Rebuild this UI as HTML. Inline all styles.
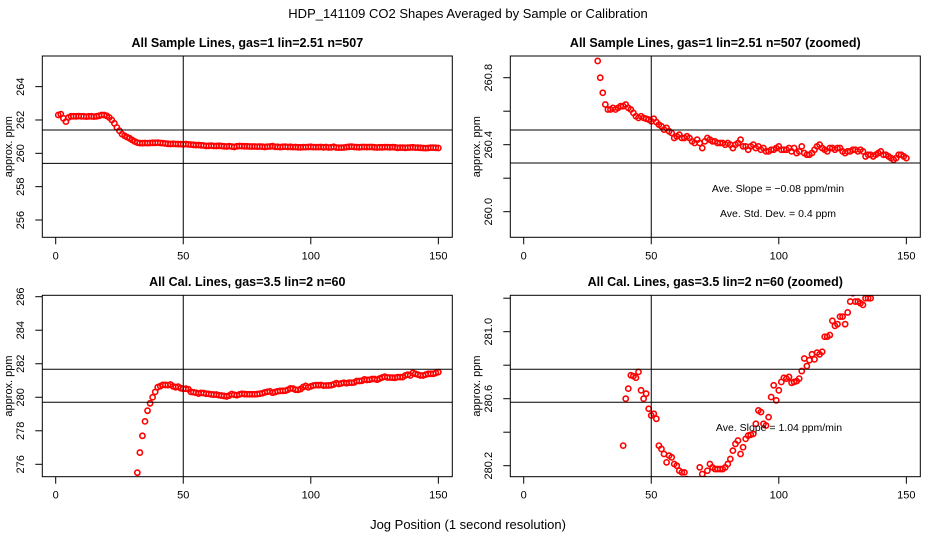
<!DOCTYPE html>
<html><head><meta charset="utf-8"><style>
html,body{margin:0;padding:0;background:#fff;width:936px;height:540px;overflow:hidden;}
svg{display:block;font-family:"Liberation Sans",sans-serif;}
</style></head><body>
<svg id="chart" width="936" height="540" viewBox="0 0 936 540">
<text x="468" y="18" text-anchor="middle" font-size="13">HDP_141109  CO2 Shapes Averaged by Sample or Calibration</text>
<text x="468" y="529" text-anchor="middle" font-size="13">Jog Position (1 second resolution)</text>
</svg>
<script>
const sampleStart = 1;
const sampleValues = [262.3,262.35,262.1,261.9,262.15,262.22,262.22,262.22,262.23,262.22,262.22,262.2,262.22,262.22,262.2,262.22,262.25,262.3,262.3,262.25,262.15,262.0,261.8,261.55,261.35,261.15,261.05,260.97,
260.90,260.80,260.71,260.64,260.61,260.61,260.62,260.61,260.62,260.63,260.63,260.64,260.62,260.61,260.59,260.57,260.56,260.57,260.56,260.555,260.55,260.54,
260.555,260.535,260.52,260.51,260.49,260.50,260.48,260.47,260.44,260.45,260.46,260.44,260.44,260.45,260.44,260.42,260.41,260.43,260.41,260.38,
260.42,260.44,260.43,260.42,260.42,260.41,260.41,260.41,260.40,260.41,260.40,260.38,260.40,260.41,260.43,260.39,260.39,260.37,260.39,260.40,
260.38,260.39,260.37,260.38,260.36,260.36,260.37,260.37,260.38,260.39,260.37,260.37,260.37,260.38,260.36,260.38,260.35,260.36,260.39,260.35,
260.34,260.34,260.35,260.37,260.39,260.40,260.38,260.37,260.36,260.38,260.38,260.37,260.38,260.38,260.36,260.35,260.36,260.36,260.37,260.37,
260.36,260.37,260.36,260.33,260.34,260.34,260.33,260.34,260.35,260.36,260.34,260.34,260.33,260.32,260.31,260.32,260.34,260.34,260.33,260.32];
const calStart = 32;
const calValues = [275.5,276.7,277.7,278.56,279.2,279.64,280.0,280.32,280.60,280.66,280.74,280.735,280.725,280.76,280.65,280.60,280.63,280.54,280.50,280.51,
280.48,280.32,280.30,280.27,280.22,280.26,280.25,280.21,280.20,280.17,280.16,280.16,280.12,280.10,280.08,280.05,280.1,280.19,280.15,280.12,
280.17,280.21,280.19,280.18,280.18,280.18,280.18,280.19,280.21,280.24,280.29,280.33,280.35,280.27,280.31,280.36,280.38,280.385,280.39,280.45,
280.53,280.52,280.45,280.44,280.49,280.61,280.68,280.59,280.65,280.70,280.725,280.72,280.73,280.695,280.70,280.705,280.72,280.765,280.84,280.795,
280.83,280.865,280.835,280.875,280.865,280.88,280.97,280.97,280.98,281.065,281.035,281.045,281.09,281.09,281.045,281.115,281.18,281.23,281.18,281.18,
281.17,281.16,281.2,281.2,281.2,281.3,281.35,281.3,281.45,281.4,281.35,281.3,281.3,281.35,281.4,281.4,281.4,281.45,281.5];
const xTicks = [0,50,100,150];
const vLine = 50;
const p1Ticks = [256,258,260,262,264];
const p1Labels = ["256","258","260","262","264"];
const p1HLines = [261.4,259.4];
const p2Ticks = [260.0,260.2,260.4,260.6,260.8];
const p2Labels = ["260.0","","260.4","","260.8"];
const p2HLines = [260.488,260.291];
const p3Ticks = [276,278,280,282,284,286];
const p3Labels = ["276","278","280","282","284","286"];
const p3HLines = [281.67,279.7];
const p4Ticks = [280.2,280.4,280.6,280.8,281.0,281.2];
const p4Labels = ["280.2","","280.6","","281.0",""];
const p4HLines = [280.776,280.579];

const NS="http://www.w3.org/2000/svg";
const svg=document.getElementById('chart');
function mk(tag,attrs,parent){const e=document.createElementNS(NS,tag);for(const k in attrs)e.setAttribute(k,attrs[k]);(parent||svg).appendChild(e);return e;}

function panel(id,cfg){
  const g=mk('g',{});
  
  
  const L=cfg.ox+42.3,R=cfg.ox+452.3,T=cfg.top,B=cfg.bot;
  const xs=v=>cfg.ox+55.7+v*2.551;
  const ys=v=>cfg.y0px-(v-cfg.y0)*cfg.ypu;
  const cp=mk('clipPath',{id:'clip-'+id},g);
  mk('rect',{x:L,y:T,width:R-L,height:B-T},cp);
  const title=mk('text',{x:(L+R)/2,y:cfg.ty,'text-anchor':'middle','font-size':'12.5','font-weight':'bold'},g);
  title.textContent=cfg.title;
  
  
  xTicks.forEach(t=>{
    mk('line',{x1:xs(t),x2:xs(t),y1:B,y2:B+7,stroke:'#000'},g);
    const tx=mk('text',{x:xs(t),y:B+22,'text-anchor':'middle','font-size':'11'},g);
    tx.textContent=t;
    
    
  });
  cfg.ticks.forEach((t,i)=>{
    const y=ys(t);
    mk('line',{x1:L-7,x2:L,y1:y,y2:y,stroke:'#000'},g);
    if(cfg.labels[i]){
      const tx=mk('text',{x:cfg.ox+24,y:y,'text-anchor':'middle','font-size':'11',transform:`rotate(-90 ${cfg.ox+24} ${y})`},g);
      tx.textContent=cfg.labels[i];
      
      
    }
  });
  const ym=(T+B)/2;
  const yt=mk('text',{x:cfg.ox+12,y:ym,'text-anchor':'middle','font-size':'11',transform:`rotate(-90 ${cfg.ox+12} ${ym})`},g);
  yt.textContent='approx. ppm';
  
  
  const pg=mk('g',{'clip-path':`url(#clip-${id})`},g);
  cfg.values.forEach((v,i)=>{
    const c=mk('circle',{cx:xs(cfg.start+i),cy:ys(v),r:2.6,fill:'none',stroke:'#f00','stroke-width':1.6},pg);
    
    
  });
  const lg=mk('g',{'clip-path':`url(#clip-${id})`},g);
  const vl=mk('line',{x1:xs(vLine),x2:xs(vLine),y1:T,y2:B,stroke:'#000'},lg);
  
  
  cfg.hlines.forEach(h=>{
    const l=mk('line',{x1:L,x2:R,y1:ys(h),y2:ys(h),stroke:'#000'},lg);
    
    
  });
  const box=mk('rect',{x:L,y:T,width:R-L,height:B-T,fill:'none',stroke:'#000'},g);
  
  
  (cfg.notes||[]).forEach(n=>{
    const t=mk('text',{x:n[0],y:n[1],'text-anchor':'middle','font-size':'10.5'},g);
    t.textContent=n[2];
    
    
  });
}
panel('sample',{ox:0,top:56,bot:237.3,ty:47,y0:256,y0px:220,ypu:16.67,ticks:p1Ticks,labels:p1Labels,hlines:p1HLines,values:sampleValues,start:sampleStart,title:'All Sample Lines, gas=1 lin=2.51 n=507'});
panel('sample-zoomed',{ox:468,top:56,bot:237.3,ty:47,y0:260,y0px:211.7,ypu:167.5,ticks:p2Ticks,labels:p2Labels,hlines:p2HLines,values:sampleValues,start:sampleStart,title:'All Sample Lines, gas=1 lin=2.51 n=507 (zoomed)',
 notes:[[778,192,'Ave. Slope =  \u22120.08  ppm/min'],[778,217,'Ave. Std. Dev. =  0.4  ppm']]});
panel('cal',{ox:0,top:295.3,bot:476.7,ty:286,y0:276,y0px:464.3,ypu:16.76,ticks:p3Ticks,labels:p3Labels,hlines:p3HLines,values:calValues,start:calStart,title:'All Cal. Lines, gas=3.5 lin=2 n=60'});
panel('cal-zoomed',{ox:468,top:295.3,bot:476.7,ty:286,y0:280.2,y0px:465.7,ypu:167.5,ticks:p4Ticks,labels:p4Labels,hlines:p4HLines,values:calValues,start:calStart,title:'All Cal. Lines, gas=3.5 lin=2 n=60 (zoomed)',
 notes:[[779,431,'Ave. Slope =  1.04  ppm/min']]});
</script>
</body></html>
